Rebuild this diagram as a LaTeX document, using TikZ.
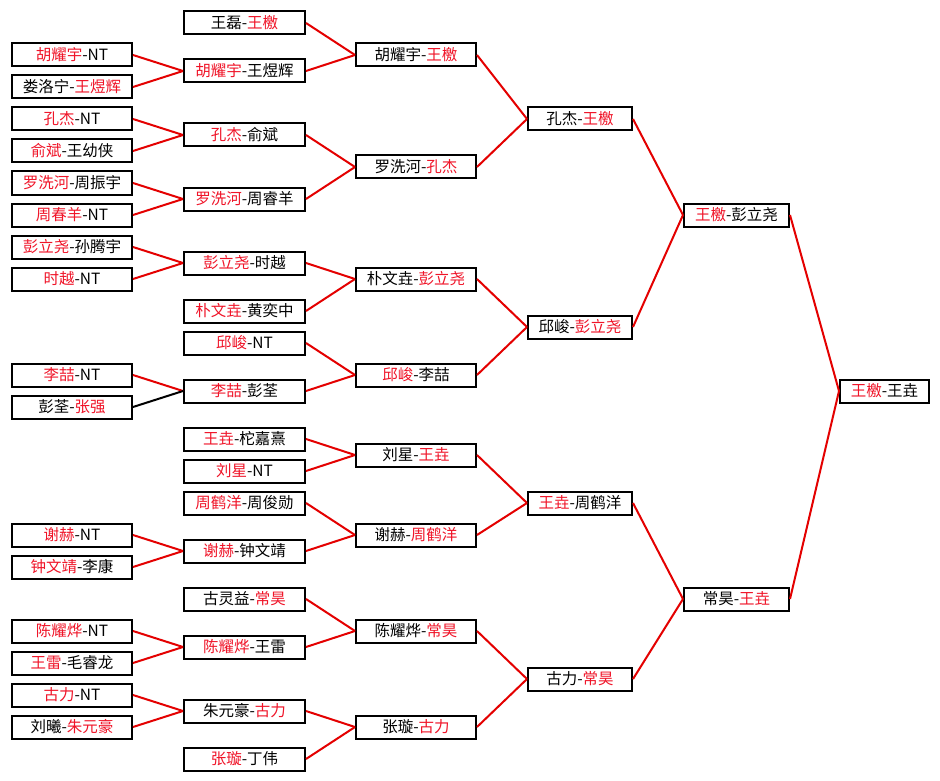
\documentclass[tikz,border=0pt]{standalone}
\usepackage{fontspec}
\setmainfont{Noto Sans CJK SC}
\usepackage{tikz}
\usetikzlibrary{positioning}

\definecolor{winred}{RGB}{240,20,40}
\definecolor{linkred}{RGB}{228,0,0}
\newcommand{\winner}[1]{\textcolor{winred}{#1}}

\begin{document}
\begin{tikzpicture}[x=1pt, y=-1pt, semithick]
      \tikzstyle{player}=[draw=black, line width=2pt, fill=white, inner sep=0pt,
        minimum height=23pt, text=black, font=\fontsize{15.5}{17}\selectfont]
      \tikzstyle{link}=[draw=linkred, line width=2pt]
      \useasboundingbox[fill=white] (0,0) rectangle (940,781);
      % first round
      \node[player, minimum width=120pt] (a1) at (72,55) {\winner{胡耀宇}-NT};
      \node[player, minimum width=120pt] (a2) at (72,87) {娄洛宁-\winner{王煜辉}};
      \node[player, minimum width=120pt] (a3) at (72,119) {\winner{孔杰}-NT};
      \node[player, minimum width=120pt] (a4) at (72,151) {\winner{俞斌}-王幼侠};
      \node[player, minimum width=120pt] (a5) at (72,183) {\winner{罗洗河}-周振宇};
      \node[player, minimum width=120pt] (a6) at (72,215) {\winner{周春羊}-NT};
      \node[player, minimum width=120pt] (a7) at (72,247) {\winner{彭立尧}-孙腾宇};
      \node[player, minimum width=120pt] (a8) at (72,279) {\winner{时越}-NT};
      \node[player, minimum width=120pt] (a9) at (72,375) {\winner{李喆}-NT};
      \node[player, minimum width=120pt] (a10) at (72,407) {彭荃-\winner{张强}};
      \node[player, minimum width=120pt] (a11) at (72,535) {\winner{谢赫}-NT};
      \node[player, minimum width=120pt] (a12) at (72,567) {\winner{钟文靖}-李康};
      \node[player, minimum width=120pt] (a13) at (72,631) {\winner{陈耀烨}-NT};
      \node[player, minimum width=120pt] (a14) at (72,663) {\winner{王雷}-毛睿龙};
      \node[player, minimum width=120pt] (a15) at (72,695) {\winner{古力}-NT};
      \node[player, minimum width=120pt] (a16) at (72,727) {刘曦-\winner{朱元豪}};
      % second round
      \node[player, minimum width=121pt] (b1) at (244.5,23) {王磊-\winner{王檄}};
      \node[player, minimum width=121pt] (b2) at (244.5,71) {\winner{胡耀宇}-王煜辉};
      \node[player, minimum width=121pt] (b3) at (244.5,135) {\winner{孔杰}-俞斌};
      \node[player, minimum width=121pt] (b4) at (244.5,199) {\winner{罗洗河}-周睿羊};
      \node[player, minimum width=121pt] (b5) at (244.5,263) {\winner{彭立尧}-时越};
      \node[player, minimum width=121pt] (b6) at (244.5,311) {\winner{朴文垚}-黄奕中};
      \node[player, minimum width=121pt] (b7) at (244.5,343) {\winner{邱峻}-NT};
      \node[player, minimum width=121pt] (b8) at (244.5,391) {\winner{李喆}-彭荃};
      \node[player, minimum width=121pt] (b9) at (244.5,439) {\winner{王垚}-柁嘉熹};
      \node[player, minimum width=121pt] (b10) at (244.5,471) {\winner{刘星}-NT};
      \node[player, minimum width=121pt] (b11) at (244.5,503) {\winner{周鹤洋}-周俊勋};
      \node[player, minimum width=121pt] (b12) at (244.5,551) {\winner{谢赫}-钟文靖};
      \node[player, minimum width=121pt] (b13) at (244.5,599) {古灵益-\winner{常昊}};
      \node[player, minimum width=121pt] (b14) at (244.5,647) {\winner{陈耀烨}-王雷};
      \node[player, minimum width=121pt] (b15) at (244.5,711) {朱元豪-\winner{古力}};
      \node[player, minimum width=121pt] (b16) at (244.5,759) {\winner{张璇}-丁伟};
      % third round
      \node[player, minimum width=120pt] (c1) at (416,55) {胡耀宇-\winner{王檄}};
      \node[player, minimum width=120pt] (c2) at (416,167) {罗洗河-\winner{孔杰}};
      \node[player, minimum width=120pt] (c3) at (416,279) {朴文垚-\winner{彭立尧}};
      \node[player, minimum width=120pt] (c4) at (416,375) {\winner{邱峻}-李喆};
      \node[player, minimum width=120pt] (c5) at (416,455) {刘星-\winner{王垚}};
      \node[player, minimum width=120pt] (c6) at (416,535) {谢赫-\winner{周鹤洋}};
      \node[player, minimum width=120pt] (c7) at (416,631) {陈耀烨-\winner{常昊}};
      \node[player, minimum width=120pt] (c8) at (416,727) {张璇-\winner{古力}};
      % quarter finals
      \node[player, minimum width=104pt] (d1) at (580,119) {孔杰-\winner{王檄}};
      \node[player, minimum width=104pt] (d2) at (580,327) {邱峻-\winner{彭立尧}};
      \node[player, minimum width=104pt] (d3) at (580,503) {\winner{王垚}-周鹤洋};
      \node[player, minimum width=104pt] (d4) at (580,679) {古力-\winner{常昊}};
      % semi finals
      \node[player, minimum width=105pt] (e1) at (736.5,215) {\winner{王檄}-彭立尧};
      \node[player, minimum width=105pt] (e2) at (736.5,599) {常昊-\winner{王垚}};
      % final
      \node[player, minimum width=89pt] (f) at (884.5,391) {\winner{王檄}-王垚};
      % connectors
      \foreach \i/\j in {1/2, 2/2, 3/3, 4/3, 5/4, 6/4, 7/5, 8/5, 9/8,
                         11/12, 12/12, 13/14, 14/14, 15/15, 16/15}
        \draw[link] (a\i.east) -- (b\j.west);
      \draw[draw=black, line width=2pt] (a10.east) -- (b8.west);
      \foreach \i/\j in {1/1, 2/1, 3/2, 4/2, 5/3, 6/3, 7/4, 8/4,
                         9/5, 10/5, 11/6, 12/6, 13/7, 14/7, 15/8, 16/8}
        \draw[link] (b\i.east) -- (c\j.west);
      \foreach \i/\j in {1/1, 2/1, 3/2, 4/2, 5/3, 6/3, 7/4, 8/4}
        \draw[link] (c\i.east) -- (d\j.west);
      \foreach \i/\j in {1/1, 2/1, 3/2, 4/2}
        \draw[link] (d\i.east) -- (e\j.west);
      \draw[link] (e1.east) -- (f.west);
      \draw[link] (e2.east) -- (f.west);
    \end{tikzpicture}
\end{document}
